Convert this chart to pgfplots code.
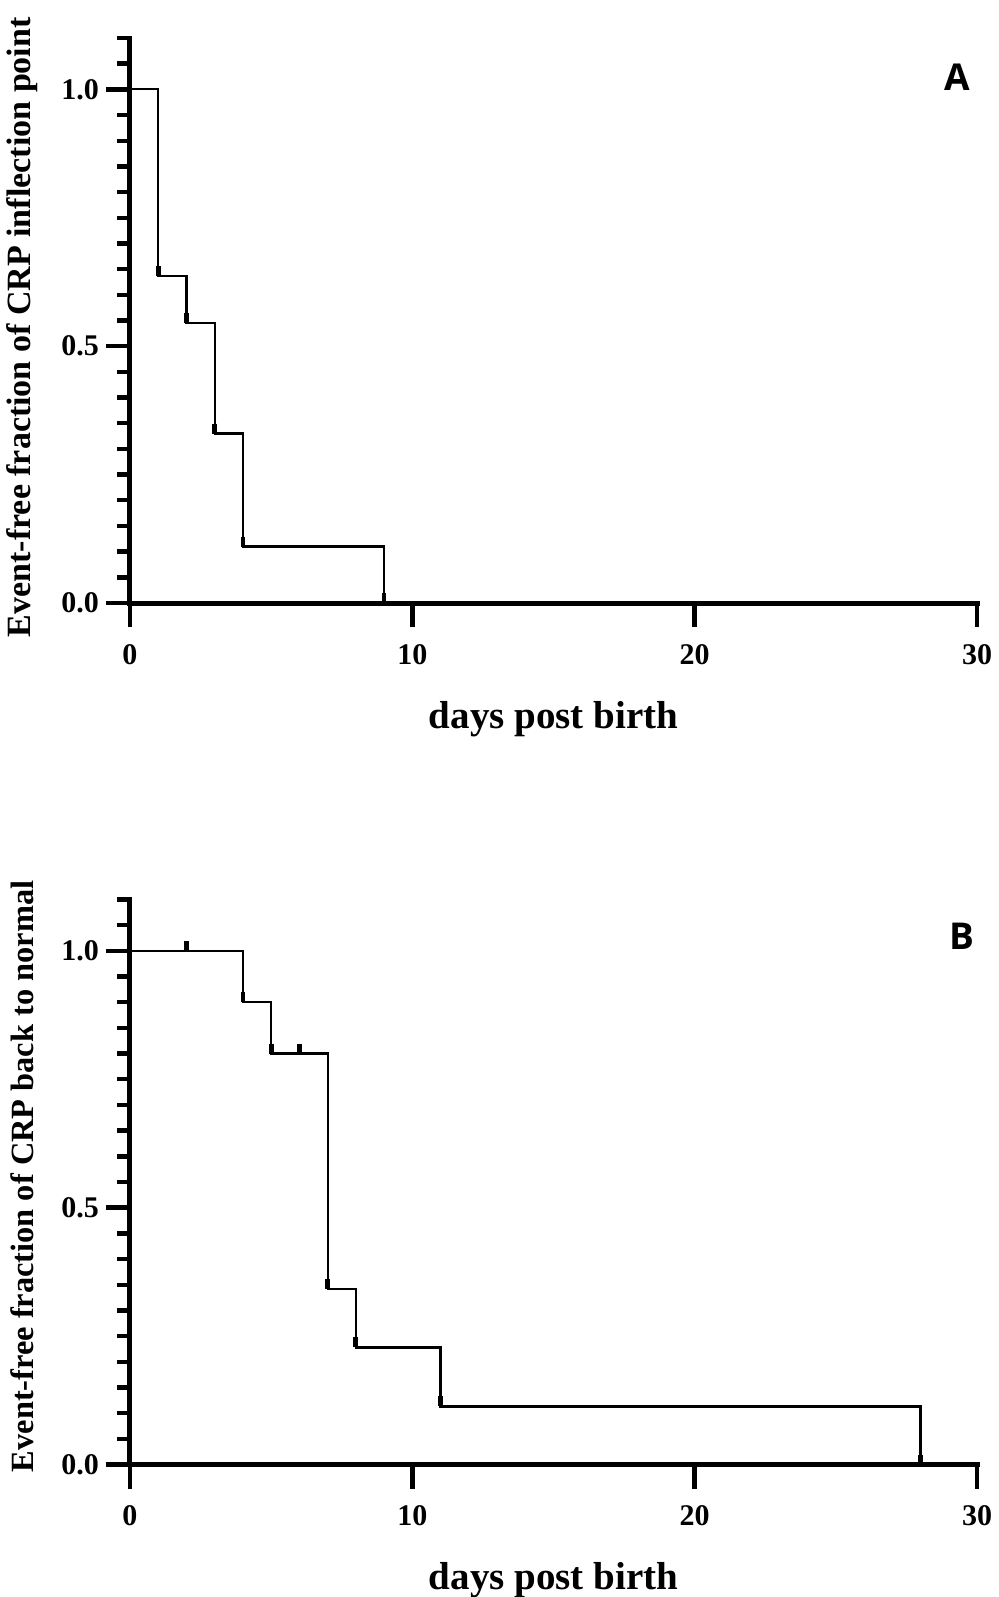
\documentclass[border=0pt]{standalone}
\usepackage{fontspec}
\setmainfont{Liberation Serif}
\newfontfamily\panelfont{Open Sans}
\usepackage{pgfplots}
\pgfplotsset{compat=1.18}

% survival curves, values
\pgfplotsset{km/.style={
    scale only axis,
    width=423.5pt, height=282.5pt,
    xmin=0, xmax=30, ymin=0, ymax=1.1,
    axis lines=left,
    axis line style={line width=2.5pt, -, line cap=rect},
    xtick={0,10,20,30}, xticklabels={0,10,20,30},
    ytick={0,0.5,1}, yticklabels={0.0,0.5,1.0},
    minor ytick={0.05,0.1,0.15,0.2,0.25,0.3,0.35,0.4,0.45,0.55,0.6,0.65,0.7,0.75,0.8,0.85,0.9,0.95,1.05,1.1},
    tick align=outside,
    major tick length=12pt, minor tick length=6.5pt,
    major tick style={line width=2.2pt, black},
    minor tick style={line width=2.2pt, black},
    ticklabel style={font=\bfseries\fontsize{15}{17}\selectfont},
    xticklabel style={yshift=-5pt},
    xlabel={days post birth},
    xlabel style={font=\bfseries\fontsize{19.5}{22}\selectfont, at={(axis description cs:0.5,-0.205)}, anchor=center},
    clip=false,
}}

\begin{document}
\begin{tikzpicture}
\path[use as bounding box] (-65pt,-497pt) rectangle (434pt,301.5pt);

\begin{axis}[km, at={(0,0)}, anchor=south west,
    ylabel={Event-free fraction of CRP inflection point},
    ylabel style={font=\bfseries\fontsize{17}{19}\selectfont, at={(axis description cs:-0.127,0.488)}, anchor=center}]
\addplot[const plot, line width=1.1pt, black] coordinates {
    (0,1) (1,0.636) (2,0.545) (3,0.33) (4,0.11) (9,0)};
\addplot[only marks, mark=|, mark size=2.5pt, black,
    mark options={line width=2.4pt, yshift=2.5pt}] coordinates {
    (1,0.636) (2,0.545) (3,0.33) (4,0.11) (9,0)};
\node[font=\panelfont\bfseries\fontsize{18.5}{20}\selectfont] at (rel axis cs:0.977,0.93) {A};
\end{axis}

\begin{axis}[km, at={(0,-430.75pt)}, anchor=south west,
    ylabel={Event-free fraction of CRP back to normal},
    ylabel style={font=\bfseries\fontsize{16.2}{18}\selectfont, at={(axis description cs:-0.127,0.51)}, anchor=center}]
\addplot[const plot, line width=1.1pt, black] coordinates {
    (0,1) (4,0.9) (5,0.8) (7,0.342) (8,0.228) (11,0.113) (28,0)};
\addplot[only marks, mark=|, mark size=2.5pt, black,
    mark options={line width=2.4pt, yshift=2.5pt}] coordinates {
    (2,1) (4,0.9) (5,0.8) (6,0.8) (7,0.342) (8,0.228) (11,0.113) (28,0)};
\node[font=\panelfont\bfseries\fontsize{18.5}{20}\selectfont] at (rel axis cs:0.982,0.935) {B};
\end{axis}
\end{tikzpicture}
\end{document}
